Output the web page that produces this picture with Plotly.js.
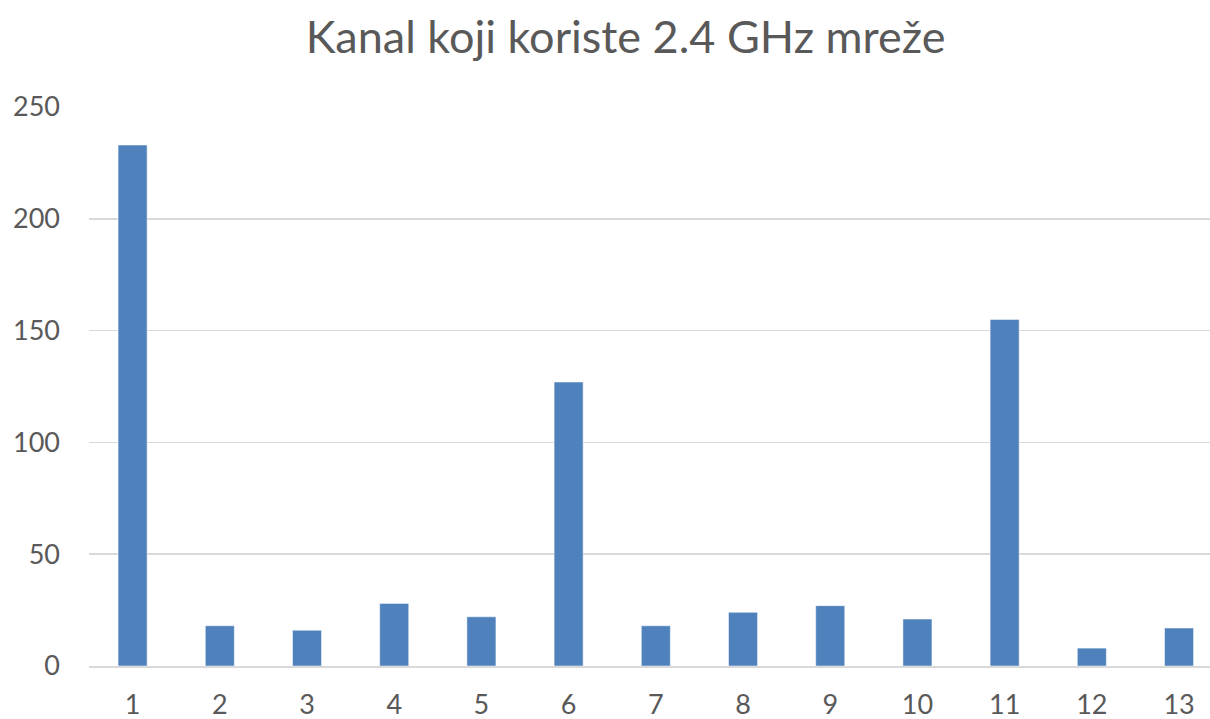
<!DOCTYPE html>
<html>
<head>
<meta charset="utf-8">
<script src="https://cdn.plot.ly/plotly-3.0.1.min.js"></script>
<style>html,body{margin:0;padding:0;background:#fff;}#chart{width:1210px;height:719px;}</style>
</head>
<body>
<div id="chart"></div>
<script>
const channels = [1, 2, 3, 4, 5, 6, 7, 8, 9, 10, 11, 12, 13];
const channelLabels = ["1","2","3","4","5","6","7","8","9","10","11","12","13"];
const networkCounts = [233, 18, 16, 28, 22, 127, 18, 24, 27, 21, 155, 8, 17];
const yTicks = [0, 50, 100, 150, 200, 250];

const trace = {
  type: 'bar',
  x: channels,
  y: networkCounts,
  width: 0.333,
  marker: {color: '#4f81bd', line: {color: '#ffffff', width: 0.5}},
  hoverinfo: 'x+y'
};

const layout = {
  width: 1210, height: 719,
  margin: {l: 89, r: 0, t: 107, b: 53, pad: 0},
  paper_bgcolor: '#ffffff', plot_bgcolor: '#ffffff',
  showlegend: false,
  font: {family: 'Lato, "Open Sans", sans-serif', color: '#595959'},
  title: {
    text: 'Kanal koji koriste 2.4 GHz mreže',
    font: {family: 'Lato, "Open Sans", sans-serif', size: 45, color: '#595959'},
    xref: 'container', yref: 'container',
    x: 0.517, xanchor: 'center', y: 1 - 37/719, yanchor: 'middle'
  },
  xaxis: {
    range: [0.5, 13.355],
    tickvals: channels, ticktext: channelLabels,
    showgrid: false, zeroline: false,
    showline: true, linecolor: '#d9d9d9', linewidth: 2,
    ticks: '', ticklabelstandoff: 14,
    tickfont: {size: 27, color: '#595959'},
    automargin: false,
    fixedrange: true
  },
  yaxis: {
    range: [0, 250],
    tickvals: yTicks,
    showgrid: true, gridcolor: '#d9d9d9', gridwidth: 1.5,
    zeroline: false, showline: false,
    ticks: '', ticklabelstandoff: 28,
    tickfont: {size: 27, color: '#595959'},
    automargin: false,
    fixedrange: true
  },
  bargap: 0.667
};

Plotly.newPlot('chart', [trace], layout, {displayModeBar: false, staticPlot: true});
</script>
</body>
</html>
